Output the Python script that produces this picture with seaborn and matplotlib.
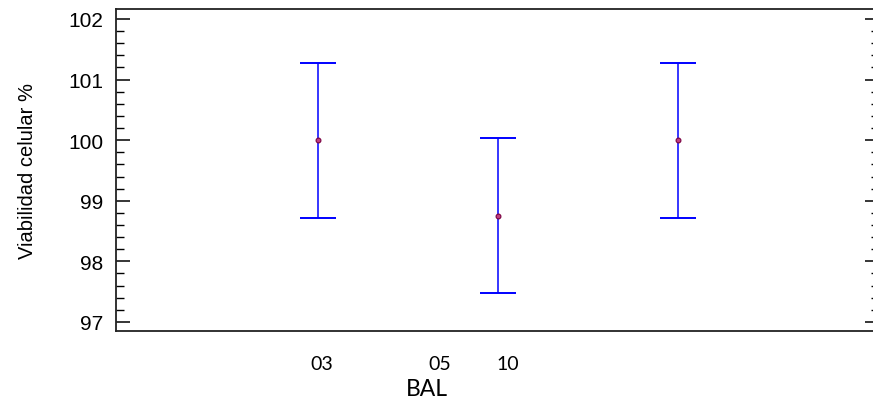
"""
Means plot with intervals, Viabilidad celular % by BAL.
"""
import numpy as np
import pandas as pd
import seaborn as sns
import matplotlib.pyplot as plt
from matplotlib.ticker import MultipleLocator

# data
positions = [1, 2, 3]
means = [100.0, 98.75, 100.0]
lower = [98.72, 97.47, 98.72]
upper = [101.28, 100.04, 101.28]
tick_labels = ["03", "05", "10"]
tick_pos = [1.022, 1.678, 2.056]  # labels sit off the bars in the original

df = pd.DataFrame({"pos": positions, "mean": means, "lo": lower, "hi": upper})

sns.set_theme(style="white")
plt.rcParams["font.family"] = ["Liberation Sans", "DejaVu Sans"]

fig = plt.figure(figsize=(8.73, 4.02), dpi=100)
ax = fig.add_axes([116 / 873, 70 / 402, 1 - 116 / 873, 322 / 402])

# intervals
yerr = np.vstack([df["mean"] - df["lo"], df["hi"] - df["mean"]])
ax.errorbar(df["pos"], df["mean"], yerr=yerr, fmt="none", ecolor="#0000ff",
            elinewidth=1.1, capsize=13, capthick=1.4, zorder=2)
# means
sns.scatterplot(data=df, x="pos", y="mean", ax=ax, marker="o", s=12,
                color="#c04080", edgecolor="#7a0040", linewidth=0.8, zorder=3)

ax.set_xlim(-0.122, 4.083)
ax.set_ylim(96.85, 102.165)

# y axis: inward ticks, 4 minors between majors
ax.yaxis.set_major_locator(MultipleLocator(1))
ax.yaxis.set_minor_locator(MultipleLocator(0.2))
ax.tick_params(axis="y", which="major", direction="in", length=10, width=1.1,
               color="black", pad=9, labelsize=15, left=True)
ax.tick_params(axis="y", which="minor", direction="in", length=5.5, width=1.0,
               color="black", left=True)
ax.set_ylabel("Viabilidad celular %", fontsize=14.5, color="black")
ax.yaxis.set_label_coords(-0.104, 0.5)

# right side ticks, shorter
sec = ax.secondary_yaxis("right")
sec.yaxis.set_major_locator(MultipleLocator(1))
sec.yaxis.set_minor_locator(MultipleLocator(0.2))
sec.tick_params(which="major", direction="in", length=6, width=1.1, color="black", labelright=False)
sec.tick_params(which="minor", direction="in", length=1.5, width=1.0, color="black")
sec.spines["right"].set_visible(False)

# x axis: category labels only
ax.set_xticks(tick_pos)
ax.set_xticklabels(tick_labels, family=["Lato", "DejaVu Sans"], fontsize=14)
ax.tick_params(axis="x", length=0, pad=17, labelcolor="black")
ax.set_xlabel("BAL", family=["Lato", "DejaVu Sans"], fontsize=16.5, color="black")
ax.xaxis.set_label_coords(0.411, -0.146)

for side in ["left", "bottom", "top"]:
    ax.spines[side].set_color("#222222")
    ax.spines[side].set_linewidth(1.3)
ax.spines["right"].set_visible(False)

for lab in ax.get_yticklabels():
    lab.set_color("black")

fig.savefig("out.png", dpi=100, facecolor="white")
